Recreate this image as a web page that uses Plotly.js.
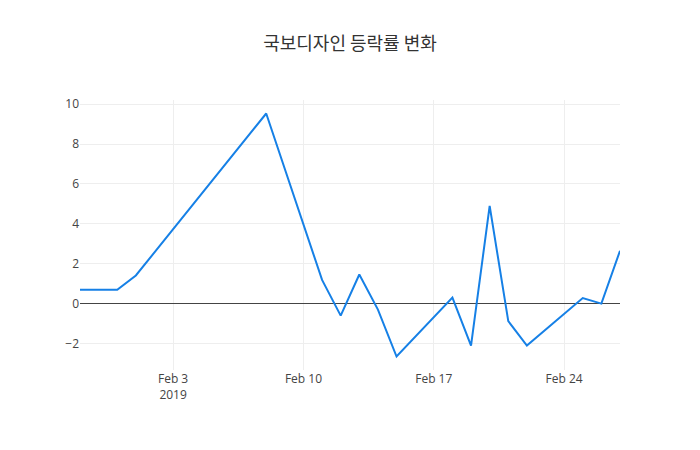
<!DOCTYPE html>
<html>
<head>
<meta charset="utf-8">
<script src="https://cdn.plot.ly/plotly-3.0.1.min.js"></script>
<style>html,body{margin:0;padding:0;background:#fff;}</style>
</head>
<body>
<div id="chart" style="width:700px;height:450px;"></div>
<script>
const dates = ["2019-01-29","2019-01-31","2019-02-01","2019-02-08","2019-02-11","2019-02-12","2019-02-13","2019-02-14","2019-02-15","2019-02-18","2019-02-19","2019-02-20","2019-02-21","2019-02-22","2019-02-25","2019-02-26","2019-02-27"];
const changeRate = [0.69, 0.69, 1.41, 9.53, 1.19, -0.6, 1.46, -0.3, -2.65, 0.3, -2.1, 4.9, -0.88, -2.1, 0.28, 0.0, 2.65];
const chartTitle = "국보디자인 등락률 변화";

Plotly.newPlot("chart", [{
  x: dates,
  y: changeRate,
  type: "scatter",
  mode: "lines",
  line: {color: "rgb(22,128,230)", width: 2}
}], {
  width: 700,
  height: 450,
  title: {text: chartTitle, font: {family: "Noto Sans CJK KR, Open Sans, sans-serif", size: 18, color: "#333"}},
  font: {family: "Open Sans, sans-serif", color: "#444"},
  xaxis: {type: "date", showgrid: true, gridcolor: "#eee", zeroline: false},
  yaxis: {showgrid: true, gridcolor: "#eee", zeroline: true, zerolinecolor: "#444", zerolinewidth: 1},
  showlegend: false,
  plot_bgcolor: "#fff",
  paper_bgcolor: "#fff"
}, {displayModeBar: false});
</script>
</body>
</html>
